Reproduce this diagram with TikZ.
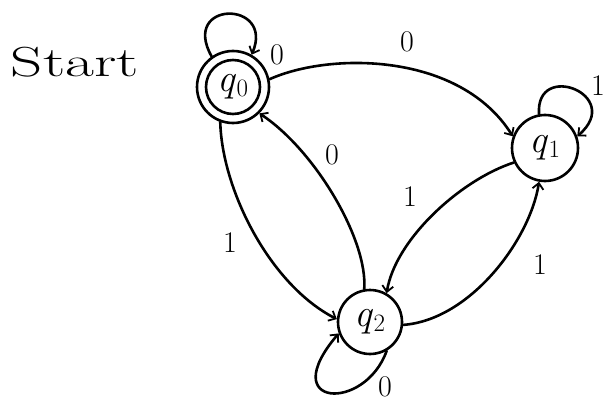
\documentclass[tikz,border=0pt]{standalone}
\usetikzlibrary{arrows.meta}
\newcommand{\stname}[1]{\textit{q}\raisebox{-5pt}{\fontsize{25}{25}\selectfont #1}}
\begin{document}
\begin{tikzpicture}[x=1pt,y=-1pt,
  line width=2.6pt, line cap=round, line join=round,
  state/.style={circle, draw, minimum size=64pt, inner sep=0pt, font=\fontsize{39}{39}\selectfont},
  tr/.style={-{Straight Barb[length=6pt,width=11pt,line width=1.8pt]}},
  lbl/.style={font=\fontsize{30}{30}\selectfont}]
\useasboundingbox (0,0) rectangle (604,406);
\fill[white] (0,0) rectangle (604,406);

\node[font=\fontsize{42}{42}\selectfont] (start) at (75,62) {\scalebox{1.5}[1]{Start}};

\node[state, minimum size=72pt] (q0) at (233,87) {\stname{0}};
\draw (q0.center) circle (27pt);
\node[state, minimum size=66pt] (q1) at (545,148) {\stname{1}};
\node[state] (q2) at (370,322) {\stname{2}};

% self loops
\draw[tr] (q0.125) .. controls (180,0) and (275,0) .. (q0.60);
\node[lbl] (l00) at (277,55) {0};
\draw[tr] (q1.100) .. controls (535,60) and (625,95) .. (q1.20);
\node[lbl] (l11) at (598,86) {1};
\draw[tr] (q2.-60) .. controls (365,412) and (275,408) .. (q2.-160);
\node[lbl] (l22) at (385,387) {0};

% transitions
\draw[tr] (q0.12) .. controls (330,52) and (460,52) .. (q1.160);
\node[lbl] (l01) at (407,42) {0};
\draw[tr] (q2.100) .. controls (368,240) and (315,150) .. (q0.-45);
\node[lbl] (l20) at (332,155) {0};
\draw[tr] (q0.-110) .. controls (222,190) and (270,285) .. (q2.175);
\node[lbl] (l02) at (230,243) {1};
\draw[tr] (q1.205) .. controls (460,180) and (395,240) .. (q2.60);
\node[lbl] (l12) at (410,197) {1};
\draw[tr] (q2.-5) .. controls (470,320) and (530,240) .. (q1.-100);
\node[lbl] (l21) at (540,265) {1};
\end{tikzpicture}
\end{document}
